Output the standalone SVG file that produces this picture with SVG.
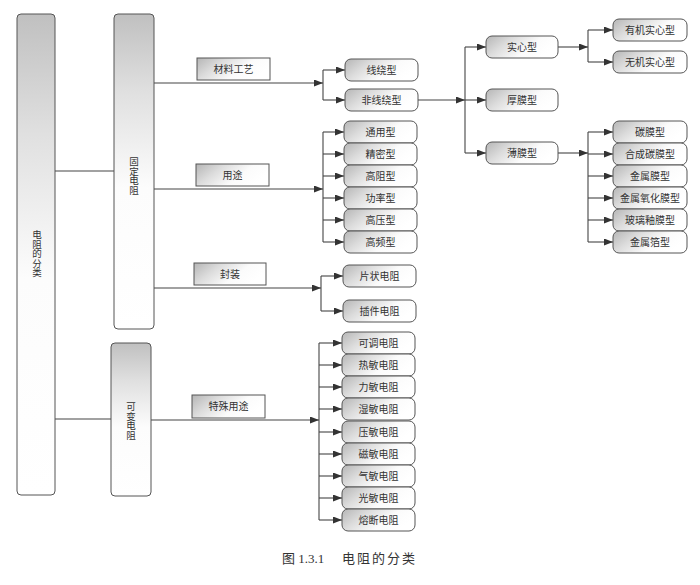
<svg xmlns="http://www.w3.org/2000/svg" width="700" height="585" viewBox="0 0 700 585">
<style>
.nb{fill:url(#gh);stroke:#555;stroke-width:1}
.lb{fill:url(#gh);stroke:#555;stroke-width:1}
.vb{fill:url(#gv);stroke:#555;stroke-width:1}
.t{font-family:"Noto Sans CJK SC",sans-serif;font-size:10px;fill:#333;text-anchor:middle}
.vt{font-family:"Noto Sans CJK SC",sans-serif;font-size:9.5px;fill:#333;writing-mode:vertical-rl;text-orientation:upright}
.c line{stroke:#444;stroke-width:1.1;fill:none}
.c .a{marker-end:url(#ar)}
.cap{font-family:"Liberation Serif","Noto Sans CJK SC",serif;font-size:13px;fill:#333}
</style>
<defs>
<linearGradient id="gh" x1="0" y1="0" x2="1" y2="0.4">
<stop offset="0" stop-color="#b5b5b5"/>
<stop offset="0.35" stop-color="#dcdcdc"/>
<stop offset="0.7" stop-color="#fbfbfb"/>
<stop offset="1" stop-color="#fff"/>
</linearGradient>
<linearGradient id="gv" x1="0" y1="0" x2="0" y2="1">
<stop offset="0" stop-color="#c0c0c0"/>
<stop offset="0.25" stop-color="#e0e0e0"/>
<stop offset="0.55" stop-color="#fcfcfc"/>
<stop offset="1" stop-color="#fff"/>
</linearGradient>
<marker id="ar" markerUnits="userSpaceOnUse" markerWidth="10" markerHeight="8" refX="9" refY="3.5" orient="auto">
<path d="M0,0 L9,3.5 L0,7 z" fill="#333"/>
</marker>
</defs>
<rect width="700" height="585" fill="#fff"/>

<g class="c" id="connectors">
<line x1="55" y1="171" x2="114" y2="171"/>
<line x1="53" y1="419" x2="111" y2="419"/>
<line class="a" x1="154" y1="83" x2="323" y2="83"/>
<line x1="323" y1="70" x2="323" y2="100"/>
<line class="a" x1="323" y1="70" x2="345" y2="70"/>
<line class="a" x1="323" y1="100" x2="345" y2="100"/>
<line class="a" x1="154" y1="189" x2="323" y2="189"/>
<line x1="323" y1="132" x2="323" y2="242"/>
<line class="a" x1="323" y1="132" x2="344" y2="132"/>
<line class="a" x1="323" y1="154" x2="344" y2="154"/>
<line class="a" x1="323" y1="176" x2="344" y2="176"/>
<line class="a" x1="323" y1="198" x2="344" y2="198"/>
<line class="a" x1="323" y1="220" x2="344" y2="220"/>
<line class="a" x1="323" y1="242" x2="344" y2="242"/>
<line class="a" x1="153" y1="288" x2="321" y2="288"/>
<line x1="321" y1="276" x2="321" y2="311"/>
<line class="a" x1="321" y1="276" x2="343" y2="276"/>
<line class="a" x1="321" y1="311" x2="343" y2="311"/>
<line class="a" x1="151" y1="420" x2="319" y2="420"/>
<line x1="319" y1="343" x2="319" y2="520"/>
<line class="a" x1="319" y1="343" x2="342" y2="343"/>
<line class="a" x1="319" y1="365" x2="342" y2="365"/>
<line class="a" x1="319" y1="387" x2="342" y2="387"/>
<line class="a" x1="319" y1="409" x2="342" y2="409"/>
<line class="a" x1="319" y1="432" x2="342" y2="432"/>
<line class="a" x1="319" y1="454" x2="342" y2="454"/>
<line class="a" x1="319" y1="476" x2="342" y2="476"/>
<line class="a" x1="319" y1="498" x2="342" y2="498"/>
<line class="a" x1="319" y1="520" x2="342" y2="520"/>
<line class="a" x1="418" y1="100" x2="465" y2="100"/>
<line x1="465" y1="47" x2="465" y2="153"/>
<line class="a" x1="465" y1="47" x2="486" y2="47"/>
<line class="a" x1="465" y1="100" x2="486" y2="100"/>
<line class="a" x1="465" y1="153" x2="486" y2="153"/>
<line class="a" x1="558" y1="47" x2="588" y2="47"/>
<line x1="588" y1="30" x2="588" y2="62"/>
<line class="a" x1="588" y1="30" x2="613" y2="30"/>
<line class="a" x1="588" y1="62" x2="613" y2="62"/>
<line class="a" x1="558" y1="153" x2="588" y2="153"/>
<line x1="588" y1="132" x2="588" y2="242"/>
<line class="a" x1="588" y1="132" x2="613" y2="132"/>
<line class="a" x1="588" y1="154" x2="613" y2="154"/>
<line class="a" x1="588" y1="176" x2="613" y2="176"/>
<line class="a" x1="588" y1="198" x2="613" y2="198"/>
<line class="a" x1="588" y1="220" x2="613" y2="220"/>
<line class="a" x1="588" y1="242" x2="613" y2="242"/>
</g>

<g id="root"><rect class="vb" x="17" y="14" width="38" height="481" rx="4"/>
<text class="vt" x="37" y="230">电阻的分类</text></g>
<g id="fixed"><rect class="vb" x="114" y="14" width="40" height="315" rx="4"/>
<text class="vt" x="134" y="157">固定电阻</text></g>
<g id="variable"><rect class="vb" x="111" y="343" width="40" height="153" rx="4"/>
<text class="vt" x="131" y="402">可变电阻</text></g>

<g id="lbl-material"><rect class="lb" x="197" y="58" width="73" height="22"/><text class="t" x="233.5" y="72.5">材料工艺</text></g>
<g id="lbl-use"><rect class="lb" x="196" y="164" width="73" height="22"/><text class="t" x="232.5" y="178.5">用途</text></g>
<g id="lbl-package"><rect class="lb" x="194" y="263" width="72" height="22"/><text class="t" x="230" y="277.5">封装</text></g>
<g id="lbl-special"><rect class="lb" x="192" y="395" width="73" height="23"/><text class="t" x="228.5" y="410">特殊用途</text></g>

<g id="n-xianrao"><rect class="nb" x="345" y="59" width="73" height="22" rx="6"/><text class="t" x="381.5" y="73.5">线绕型</text></g>
<g id="n-feixianrao"><rect class="nb" x="345" y="89" width="73" height="22" rx="6"/><text class="t" x="381.5" y="103.5">非线绕型</text></g>
<g id="n-tongyong"><rect class="nb" x="344" y="121" width="73" height="22" rx="6"/><text class="t" x="380.5" y="135.5">通用型</text></g>
<g id="n-jingmi"><rect class="nb" x="344" y="143" width="73" height="22" rx="6"/><text class="t" x="380.5" y="157.5">精密型</text></g>
<g id="n-gaozu"><rect class="nb" x="344" y="165" width="73" height="22" rx="6"/><text class="t" x="380.5" y="179.5">高阻型</text></g>
<g id="n-gonglv"><rect class="nb" x="344" y="187" width="73" height="22" rx="6"/><text class="t" x="380.5" y="201.5">功率型</text></g>
<g id="n-gaoya"><rect class="nb" x="344" y="209" width="73" height="22" rx="6"/><text class="t" x="380.5" y="223.5">高压型</text></g>
<g id="n-gaopin"><rect class="nb" x="344" y="231" width="73" height="22" rx="6"/><text class="t" x="380.5" y="245.5">高频型</text></g>
<g id="n-pianzhuang"><rect class="nb" x="343" y="265" width="73" height="22" rx="6"/><text class="t" x="379.5" y="279.5">片状电阻</text></g>
<g id="n-chajian"><rect class="nb" x="343" y="300" width="73" height="22" rx="6"/><text class="t" x="379.5" y="314.5">插件电阻</text></g>

<g id="n-ketiao"><rect class="nb" x="342" y="332" width="73" height="22" rx="6"/><text class="t" x="378.5" y="346.5">可调电阻</text></g>
<g id="n-remin"><rect class="nb" x="342" y="354" width="73" height="22" rx="6"/><text class="t" x="378.5" y="368.5">热敏电阻</text></g>
<g id="n-limin"><rect class="nb" x="342" y="376" width="73" height="22" rx="6"/><text class="t" x="378.5" y="390.5">力敏电阻</text></g>
<g id="n-shimin"><rect class="nb" x="342" y="398" width="73" height="22" rx="6"/><text class="t" x="378.5" y="412.5">湿敏电阻</text></g>
<g id="n-yamin"><rect class="nb" x="342" y="421" width="73" height="22" rx="6"/><text class="t" x="378.5" y="435.5">压敏电阻</text></g>
<g id="n-cimin"><rect class="nb" x="342" y="443" width="73" height="22" rx="6"/><text class="t" x="378.5" y="457.5">磁敏电阻</text></g>
<g id="n-qimin"><rect class="nb" x="342" y="465" width="73" height="22" rx="6"/><text class="t" x="378.5" y="479.5">气敏电阻</text></g>
<g id="n-guangmin"><rect class="nb" x="342" y="487" width="73" height="22" rx="6"/><text class="t" x="378.5" y="501.5">光敏电阻</text></g>
<g id="n-rongduan"><rect class="nb" x="342" y="509" width="73" height="22" rx="6"/><text class="t" x="378.5" y="523.5">熔断电阻</text></g>

<g id="n-shixin"><rect class="nb" x="486" y="36" width="72" height="22" rx="6"/><text class="t" x="522" y="50.5">实心型</text></g>
<g id="n-houmo"><rect class="nb" x="486" y="89" width="72" height="22" rx="6"/><text class="t" x="522" y="103.5">厚膜型</text></g>
<g id="n-baomo"><rect class="nb" x="486" y="142" width="72" height="22" rx="6"/><text class="t" x="522" y="156.5">薄膜型</text></g>

<g id="n-youji"><rect class="nb" x="613" y="19" width="74" height="22" rx="6"/><text class="t" x="650" y="33.5">有机实心型</text></g>
<g id="n-wuji"><rect class="nb" x="613" y="51" width="74" height="22" rx="6"/><text class="t" x="650" y="65.5">无机实心型</text></g>
<g id="n-tanmo"><rect class="nb" x="613" y="121" width="74" height="22" rx="6"/><text class="t" x="650" y="135.5">碳膜型</text></g>
<g id="n-hecheng"><rect class="nb" x="613" y="143" width="74" height="22" rx="6"/><text class="t" x="650" y="157.5">合成碳膜型</text></g>
<g id="n-jinshumo"><rect class="nb" x="613" y="165" width="74" height="22" rx="6"/><text class="t" x="650" y="179.5">金属膜型</text></g>
<g id="n-yanghua"><rect class="nb" x="613" y="187" width="74" height="22" rx="6"/><text class="t" x="650" y="201.5">金属氧化膜型</text></g>
<g id="n-boli"><rect class="nb" x="613" y="209" width="74" height="22" rx="6"/><text class="t" x="650" y="223.5">玻璃釉膜型</text></g>
<g id="n-bo"><rect class="nb" x="613" y="231" width="74" height="22" rx="6"/><text class="t" x="650" y="245.5">金属箔型</text></g>

<text class="cap" x="282" y="563">图 1.3.1</text>
<text class="cap" x="342" y="563" letter-spacing="2">电阻的分类</text>
</svg>
